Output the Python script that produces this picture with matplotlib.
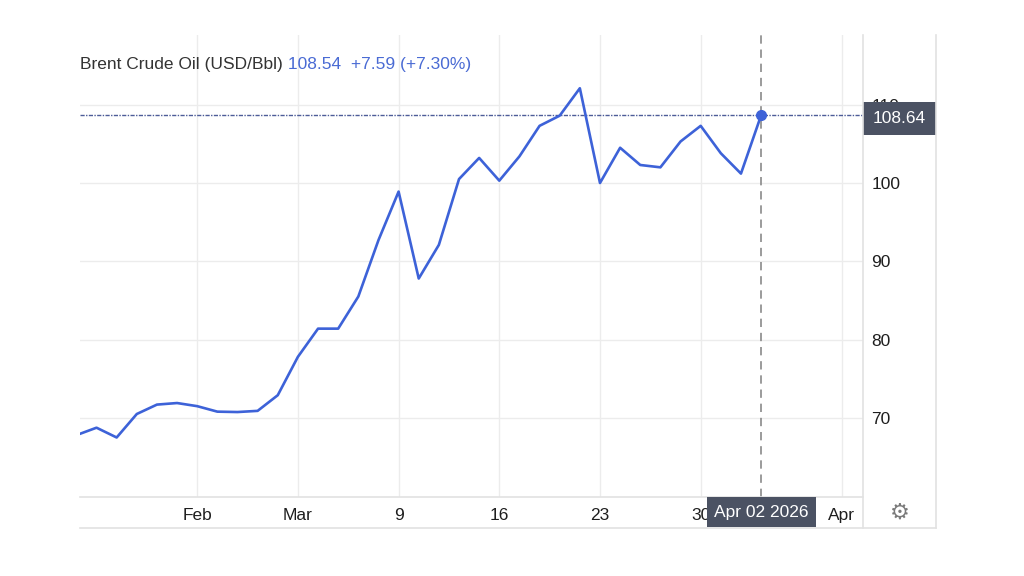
#!/usr/bin/env python3
# Brent crude price line, trading-terminal look
import matplotlib
matplotlib.use("Agg")
import matplotlib.pyplot as plt
import matplotlib.transforms as mtransforms
from matplotlib.lines import Line2D
from matplotlib.patches import Rectangle

plt.rcParams['font.family'] = ['Liberation Sans', 'DejaVu Sans']

# daily closes (first point sits just off the left edge)
prices = [67.8, 68.75, 67.5, 70.5, 71.7, 71.9, 71.5, 70.8, 70.75, 70.9,
          72.9, 77.8, 81.4, 81.4, 85.5, 92.7, 98.9, 87.8, 92.1, 100.5,
          103.2, 100.3, 103.4, 107.3, 108.6, 112.1, 100.0, 104.5, 102.3, 102.0,
          105.3, 107.3, 103.8, 101.2, 108.64]
tick_idx = [6, 11, 16, 21, 26, 31, 38]
tick_labels = ['Feb', 'Mar', '9', '16', '23', '30', 'Apr']
y_ticks = [70, 80, 90, 100, 110]
last_price = 108.64
last_date = 'Apr 02 2026'
title = 'Brent Crude Oil (USD/Bbl)'
title_quote = '108.54  +7.59 (+7.30%)'

blue = '#3d62d8'
grid = '#ececec'
frame = '#e2e2e2'
W, H = 1024, 576

fig = plt.figure(figsize=(10.24, 5.76), dpi=100)
ax = fig.add_axes([80 / W, 1 - 497 / H, (863 - 80) / W, (497 - 35) / H])

x = list(range(len(prices)))
ax.plot(x, prices, color=blue, lw=1.9, solid_joinstyle='round', zorder=3)
ax.plot(x[-1], prices[-1], 'o', color=blue, ms=7, zorder=4)

ax.set_xlim(0.18, 39.06)
ax.set_ylim(59.9, 118.9)

ax.set_xticks(tick_idx)
ax.set_xticklabels(tick_labels)
ax.set_yticks(y_ticks)
ax.yaxis.tick_right()
ax.tick_params(axis='both', length=0, labelsize=12.5, colors='#1e1e1e')
ax.tick_params(axis='x', pad=8)
ax.tick_params(axis='y', pad=6)
for lbl in ax.get_yticklabels():
    lbl.set_horizontalalignment('left')
ax.grid(True, color=grid, lw=1)
ax.set_axisbelow(True)

for s in ['top', 'left', 'right']:
    ax.spines[s].set_visible(False)
ax.spines['bottom'].set_color(frame)
ax.spines['bottom'].set_linewidth(1.2)

# crosshair at the last point
ax.axhline(last_price, color='#4d5c98', lw=1.0, ls=(0, (3, 1, 1, 1)), zorder=2)
ax.axvline(x[-1], color='#8a8a8a', lw=1.2, ls=(0, (5, 3.5)), zorder=2)

# frame lines around the price scale
for xx in (863, 936):
    fig.add_artist(Line2D([xx / W, xx / W], [1 - 528 / H, 1 - 35 / H],
                          color=frame, lw=1.2, transform=fig.transFigure))
fig.add_artist(Line2D([80 / W, 936 / W], [1 - 528 / H, 1 - 528 / H],
                      color=frame, lw=1.2, transform=fig.transFigure))

# price tag on the right scale (covers part of the 110 label, as in the source)
ytrans = mtransforms.blended_transform_factory(fig.transFigure, ax.transData)
box_h = 33 / (462 / (118.9 - 59.9))
ax.add_patch(Rectangle((863 / W, last_price - box_h / 2 - 0.45), 73 / W, box_h,
                       transform=ytrans, facecolor='#4b5263', edgecolor='none',
                       clip_on=False, zorder=10))
ax.text(899.5 / W, last_price - 0.45, f'{last_price:.2f}', transform=ytrans,
        ha='center', va='center', color='white', fontsize=12.5, zorder=11)

# date tag under the crosshair
xtrans = mtransforms.blended_transform_factory(ax.transData, fig.transFigure)
ax.text(x[-1], 1 - 512 / H, last_date, transform=xtrans, ha='center',
        va='center', color='white', fontsize=12.5, zorder=11, clip_on=False,
        bbox=dict(boxstyle='square,pad=0.42', facecolor='#4b5263',
                  edgecolor='none'))

# settings gear
fig.text(900 / W, 1 - 513 / H, '\u2699', ha='center', va='center',
         fontsize=16, color='#7a7a7a', family='DejaVu Sans')

# title
t1 = fig.text(80 / W, 1 - 64 / H, title, ha='left', va='center',
              fontsize=12.5, color='#333333')
ax.annotate(' ' + title_quote, xy=(1, 0.5), xycoords=t1, ha='left',
            va='center', fontsize=12.5, color='#4a6bd4',
            annotation_clip=False)

fig.savefig('out.png', dpi=100, facecolor='white')
